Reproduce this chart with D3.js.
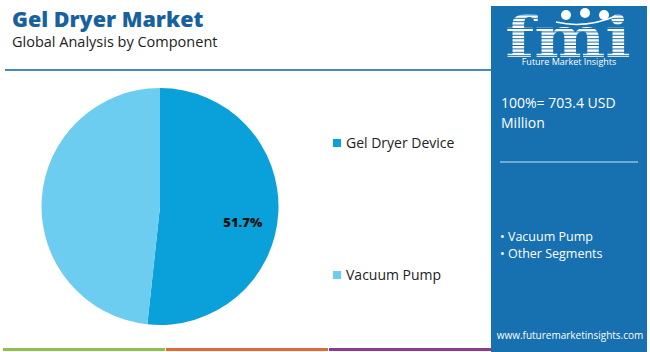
<!DOCTYPE html>
<html>
<head>
<meta charset="utf-8">
<script src="https://cdn.jsdelivr.net/npm/d3@7"></script>
<style>
  body { margin: 0; background: #fff; }
  text { font-family: "Open Sans", "Noto Sans", sans-serif; }
</style>
</head>
<body>
<div id="chart"></div>
<script>
// data
const segments = ["Gel Dryer Device", "Vacuum Pump"];
const shares = [51.7, 48.3];
const segColors = ["#0aa0d9", "#6dcdf0"];
const totalLabel = ["100%= 703.4 USD", "Million"];
const panelBullets = ["Vacuum Pump", "Other Segments"];
const stripColors = ["#8dc04f", "#e0683a", "#8b3d8c"];

const W = 650, H = 352;
const svg = d3.select("#chart").append("svg")
  .attr("width", W).attr("height", H);

// title
svg.append("text").attr("x", 12).attr("y", 27)
  .attr("fill", "#17629e").style("font-size", "21.5px").style("font-weight", 800)
  .text("Gel Dryer Market");
svg.append("text").attr("x", 12).attr("y", 47)
  .attr("fill", "#222").style("font-size", "14.5px")
  .text("Global Analysis by Component");

// header rule
svg.append("line").attr("x1", 5).attr("x2", 491).attr("y1", 70).attr("y2", 70)
  .attr("stroke", "#4a88c0").attr("stroke-width", 2);

// pie
const cx = 160, cy = 206.5, r = 118.5;
const pie = d3.pie().sort(null).value(d => d.v);
const arc = d3.arc().innerRadius(0).outerRadius(r);
const pieData = pie(segments.map((s, i) => ({ name: s, v: shares[i] })));
const pg = svg.append("g").attr("transform", `translate(${cx},${cy})`);
pg.selectAll("path").data(pieData).enter().append("path")
  .attr("d", arc).attr("fill", (d, i) => segColors[i]);

// label for the largest slice
const labArc = d3.arc().innerRadius(r * 0.7).outerRadius(r * 0.7);
const c0 = labArc.centroid(pieData[0]);
pg.append("text").attr("x", c0[0]).attr("y", c0[1] + 16)
  .attr("text-anchor", "middle").attr("fill", "#111")
  .style("font-size", "13px").style("font-weight", 800)
  .text(shares[0].toFixed(1) + "%");

// legend
const legY = d3.scalePoint().domain(segments).range([143, 275]);
const leg = svg.append("g");
segments.forEach((s, i) => {
  leg.append("rect").attr("x", 333).attr("y", legY(s) - 4).attr("width", 8).attr("height", 8)
    .attr("fill", segColors[i]);
  leg.append("text").attr("x", 346).attr("y", legY(s) + 5)
    .attr("fill", "#222").style("font-size", "14px").text(s);
});

// bottom strips
const stripX = d3.scaleBand().domain(d3.range(stripColors.length)).range([3, 492]);
svg.selectAll(".strip").data(stripColors).enter().append("rect")
  .attr("x", (d, i) => stripX(i)).attr("y", 348).attr("width", stripX.bandwidth() - 1).attr("height", 3)
  .attr("fill", d => d);

// right panel
const px = 491, pw = 156;
svg.append("rect").attr("x", px).attr("y", 6).attr("width", pw).attr("height", 346)
  .attr("fill", "#1770b0");

// logo
const logo = svg.append("g");
const clip = svg.append("defs").append("clipPath").attr("id", "fmiClip");
clip.append("text").attr("x", 0).attr("y", 0).attr("text-anchor", "middle")
  .attr("transform", "translate(568,57) scale(1.2,1)")
  .style("font-family", "DejaVu Serif, serif").style("font-size", "56px").style("font-weight", 700)
  .text("fmi");
const stripes = logo.append("g").attr("clip-path", "url(#fmiClip)");
d3.range(12, 60, 3.4).forEach(y => {
  stripes.append("rect").attr("x", 505).attr("y", y).attr("width", 130).attr("height", 2.4).attr("fill", "#fff");
});
[[566, 15], [585, 13], [604, 15]].forEach(([x, y]) => {
  logo.append("circle").attr("cx", x).attr("cy", y).attr("r", 5)
    .attr("fill", "#fff");
});
logo.append("path").attr("d", "M556,22 Q585,29 616,16")
  .attr("fill", "none").attr("stroke", "#fff").attr("stroke-width", 1.5);
logo.append("text").attr("x", 569).attr("y", 65).attr("text-anchor", "middle")
  .attr("fill", "#fff").style("font-size", "9px").text("Future Market Insights");

totalLabel.forEach((t, i) => {
  svg.append("text").attr("x", 501).attr("y", 108 + i * 20)
    .attr("fill", "#fff").style("font-size", "14px").text(t);
});
svg.append("line").attr("x1", 500).attr("x2", 638).attr("y1", 162).attr("y2", 162)
  .attr("stroke", "#cfe3f2").attr("stroke-width", 1.2);

panelBullets.forEach((t, i) => {
  svg.append("text").attr("x", 500).attr("y", 241 + i * 17)
    .attr("fill", "#fff").style("font-size", "12.5px").text("\u2022 " + t);
});
svg.append("text").attr("x", 570).attr("y", 339).attr("text-anchor", "middle")
  .attr("fill", "#fff").style("font-size", "10px").text("www.futuremarketinsights.com");
</script>
</body>
</html>
